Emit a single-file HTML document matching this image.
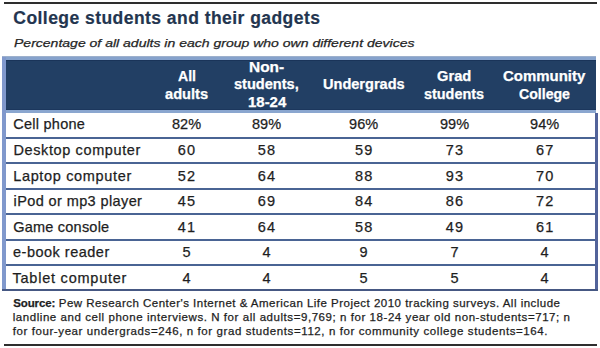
<!DOCTYPE html>
<html><head><meta charset="utf-8"><style>
html,body{margin:0;padding:0;background:#fff;width:600px;height:348px;overflow:hidden;position:relative}
.t{position:absolute;white-space:nowrap;line-height:1;font-family:"Liberation Sans",sans-serif;-webkit-text-stroke:0.25px currentColor}
.r{position:absolute}
</style></head><body>
<div class="r" style="left:3.5px;top:2px;width:593px;height:2px;background:#2e2e2e"></div>
<div class="r" style="left:4px;top:344px;width:593px;height:2px;background:#2e2e2e"></div>
<div class="t" style="left:13.30px;top:9.88px;font-size:17.5px;font-weight:bold;font-style:normal;color:#23354F;letter-spacing:0.453px;-webkit-text-stroke:0.2px currentColor">College students and their gadgets</div>
<div class="t" style="left:13.50px;top:37.56px;font-size:11.5px;font-weight:normal;font-style:italic;color:#262626;letter-spacing:0.000px;transform:scaleX(1.2187);transform-origin:0.00px 0;">Percentage of all adults in each group who own different devices</div>
<div class="r" style="left:2px;top:56px;width:594px;height:4px;background:#86A2CC"></div>
<div class="r" style="left:2px;top:56px;width:4px;height:235px;background:#8098CC"></div>
<div class="r" style="left:6px;top:60px;width:590px;height:50px;background:#223F64"></div>
<div class="r" style="left:6px;top:110px;width:590px;height:3px;background:#8AA6CF"></div>
<div class="r" style="left:6px;top:60px;width:590px;height:1px;background:#1A3459"></div>
<div class="r" style="left:6px;top:109px;width:590px;height:1px;background:#1C375D"></div>
<div class="r" style="left:2px;top:56px;width:594px;height:1px;background:#9DB0CC"></div>
<div class="r" style="left:595px;top:113px;width:3px;height:178px;background:#52639A"></div>
<div class="r" style="left:6px;top:137px;width:589px;height:2px;background:#4A6494"></div>
<div class="r" style="left:6px;top:162px;width:589px;height:2px;background:#4A6494"></div>
<div class="r" style="left:6px;top:188px;width:589px;height:2px;background:#4A6494"></div>
<div class="r" style="left:6px;top:213px;width:589px;height:2px;background:#4A6494"></div>
<div class="r" style="left:6px;top:239px;width:589px;height:2px;background:#4A6494"></div>
<div class="r" style="left:6px;top:264px;width:589px;height:2px;background:#4A6494"></div>
<div class="r" style="left:2px;top:289px;width:596px;height:2px;background:#465883"></div>
<div class="t" style="left:177.50px;top:69.45px;font-size:14px;font-weight:bold;font-style:normal;color:#ffffff;letter-spacing:0.000px;transform:scaleX(1.0070);transform-origin:0.00px 0;">All</div>
<div class="t" style="left:164.95px;top:86.65px;font-size:14px;font-weight:bold;font-style:normal;color:#ffffff;letter-spacing:0.000px;transform:scaleX(1.0448);transform-origin:0.00px 0;">adults</div>
<div class="t" style="left:248.90px;top:60.45px;font-size:14px;font-weight:bold;font-style:normal;color:#ffffff;letter-spacing:0.000px;transform:scaleX(1.1043);transform-origin:0.00px 0;">Non-</div>
<div class="t" style="left:233.70px;top:77.35px;font-size:14px;font-weight:bold;font-style:normal;color:#ffffff;letter-spacing:0.000px;transform:scaleX(1.0410);transform-origin:0.00px 0;">students,</div>
<div class="t" style="left:247.50px;top:95.35px;font-size:14px;font-weight:bold;font-style:normal;color:#ffffff;letter-spacing:0.000px;transform:scaleX(1.0685);transform-origin:0.00px 0;">18-24</div>
<div class="t" style="left:322.75px;top:77.35px;font-size:14px;font-weight:bold;font-style:normal;color:#ffffff;letter-spacing:0.000px;transform:scaleX(1.0391);transform-origin:0.00px 0;">Undergrads</div>
<div class="t" style="left:437.40px;top:69.45px;font-size:14px;font-weight:bold;font-style:normal;color:#ffffff;letter-spacing:0.000px;transform:scaleX(1.0483);transform-origin:0.00px 0;">Grad</div>
<div class="t" style="left:424.45px;top:86.65px;font-size:14px;font-weight:bold;font-style:normal;color:#ffffff;letter-spacing:0.000px;transform:scaleX(1.0296);transform-origin:0.00px 0;">students</div>
<div class="t" style="left:503.45px;top:69.45px;font-size:14px;font-weight:bold;font-style:normal;color:#ffffff;letter-spacing:0.000px;transform:scaleX(1.0688);transform-origin:0.00px 0;">Community</div>
<div class="t" style="left:519.00px;top:86.65px;font-size:14px;font-weight:bold;font-style:normal;color:#ffffff;letter-spacing:0.000px;transform:scaleX(1.0074);transform-origin:0.00px 0;">College</div>
<div class="t" style="left:13.20px;top:117.32px;font-size:14.5px;font-weight:normal;font-style:normal;color:#1e1e1e;letter-spacing:0.269px;">Cell phone</div>
<div class="t" style="left:172.00px;top:117.32px;font-size:14.5px;font-weight:normal;font-style:normal;color:#1e1e1e;letter-spacing:0.000px;">82%</div>
<div class="t" style="left:252.00px;top:117.32px;font-size:14.5px;font-weight:normal;font-style:normal;color:#1e1e1e;letter-spacing:0.000px;">89%</div>
<div class="t" style="left:349.10px;top:117.32px;font-size:14.5px;font-weight:normal;font-style:normal;color:#1e1e1e;letter-spacing:0.000px;">96%</div>
<div class="t" style="left:440.00px;top:117.32px;font-size:14.5px;font-weight:normal;font-style:normal;color:#1e1e1e;letter-spacing:0.000px;">99%</div>
<div class="t" style="left:530.10px;top:117.32px;font-size:14.5px;font-weight:normal;font-style:normal;color:#1e1e1e;letter-spacing:0.000px;">94%</div>
<div class="t" style="left:13.50px;top:142.94px;font-size:14.5px;font-weight:normal;font-style:normal;color:#1e1e1e;letter-spacing:0.612px;">Desktop computer</div>
<div class="t" style="left:177.85px;top:142.94px;font-size:14.5px;font-weight:normal;font-style:normal;color:#1e1e1e;letter-spacing:1.175px;">60</div>
<div class="t" style="left:257.85px;top:142.94px;font-size:14.5px;font-weight:normal;font-style:normal;color:#1e1e1e;letter-spacing:1.175px;">58</div>
<div class="t" style="left:354.95px;top:142.94px;font-size:14.5px;font-weight:normal;font-style:normal;color:#1e1e1e;letter-spacing:1.175px;">59</div>
<div class="t" style="left:445.85px;top:142.94px;font-size:14.5px;font-weight:normal;font-style:normal;color:#1e1e1e;letter-spacing:1.175px;">73</div>
<div class="t" style="left:535.95px;top:142.94px;font-size:14.5px;font-weight:normal;font-style:normal;color:#1e1e1e;letter-spacing:1.175px;">67</div>
<div class="t" style="left:13.20px;top:168.56px;font-size:14.5px;font-weight:normal;font-style:normal;color:#1e1e1e;letter-spacing:0.659px;">Laptop computer</div>
<div class="t" style="left:177.85px;top:168.56px;font-size:14.5px;font-weight:normal;font-style:normal;color:#1e1e1e;letter-spacing:1.175px;">52</div>
<div class="t" style="left:257.85px;top:168.56px;font-size:14.5px;font-weight:normal;font-style:normal;color:#1e1e1e;letter-spacing:1.175px;">64</div>
<div class="t" style="left:354.95px;top:168.56px;font-size:14.5px;font-weight:normal;font-style:normal;color:#1e1e1e;letter-spacing:1.175px;">88</div>
<div class="t" style="left:445.85px;top:168.56px;font-size:14.5px;font-weight:normal;font-style:normal;color:#1e1e1e;letter-spacing:1.175px;">93</div>
<div class="t" style="left:535.95px;top:168.56px;font-size:14.5px;font-weight:normal;font-style:normal;color:#1e1e1e;letter-spacing:1.175px;">70</div>
<div class="t" style="left:13.60px;top:194.18px;font-size:14.5px;font-weight:normal;font-style:normal;color:#1e1e1e;letter-spacing:0.391px;">iPod or mp3 player</div>
<div class="t" style="left:177.85px;top:194.18px;font-size:14.5px;font-weight:normal;font-style:normal;color:#1e1e1e;letter-spacing:1.175px;">45</div>
<div class="t" style="left:257.85px;top:194.18px;font-size:14.5px;font-weight:normal;font-style:normal;color:#1e1e1e;letter-spacing:1.175px;">69</div>
<div class="t" style="left:354.95px;top:194.18px;font-size:14.5px;font-weight:normal;font-style:normal;color:#1e1e1e;letter-spacing:1.175px;">84</div>
<div class="t" style="left:445.85px;top:194.18px;font-size:14.5px;font-weight:normal;font-style:normal;color:#1e1e1e;letter-spacing:1.175px;">86</div>
<div class="t" style="left:535.95px;top:194.18px;font-size:14.5px;font-weight:normal;font-style:normal;color:#1e1e1e;letter-spacing:1.175px;">72</div>
<div class="t" style="left:13.20px;top:219.80px;font-size:14.5px;font-weight:normal;font-style:normal;color:#1e1e1e;letter-spacing:0.227px;">Game console</div>
<div class="t" style="left:177.85px;top:219.80px;font-size:14.5px;font-weight:normal;font-style:normal;color:#1e1e1e;letter-spacing:1.175px;">41</div>
<div class="t" style="left:257.85px;top:219.80px;font-size:14.5px;font-weight:normal;font-style:normal;color:#1e1e1e;letter-spacing:1.175px;">64</div>
<div class="t" style="left:354.95px;top:219.80px;font-size:14.5px;font-weight:normal;font-style:normal;color:#1e1e1e;letter-spacing:1.175px;">58</div>
<div class="t" style="left:445.85px;top:219.80px;font-size:14.5px;font-weight:normal;font-style:normal;color:#1e1e1e;letter-spacing:1.175px;">49</div>
<div class="t" style="left:535.95px;top:219.80px;font-size:14.5px;font-weight:normal;font-style:normal;color:#1e1e1e;letter-spacing:1.175px;">61</div>
<div class="t" style="left:13.00px;top:245.42px;font-size:14.5px;font-weight:normal;font-style:normal;color:#1e1e1e;letter-spacing:0.496px;">e-book reader</div>
<div class="t" style="left:182.44px;top:245.42px;font-size:14.5px;font-weight:normal;font-style:normal;color:#1e1e1e;letter-spacing:0.000px;">5</div>
<div class="t" style="left:262.44px;top:245.42px;font-size:14.5px;font-weight:normal;font-style:normal;color:#1e1e1e;letter-spacing:0.000px;">4</div>
<div class="t" style="left:359.54px;top:245.42px;font-size:14.5px;font-weight:normal;font-style:normal;color:#1e1e1e;letter-spacing:0.000px;">9</div>
<div class="t" style="left:450.44px;top:245.42px;font-size:14.5px;font-weight:normal;font-style:normal;color:#1e1e1e;letter-spacing:0.000px;">7</div>
<div class="t" style="left:540.54px;top:245.42px;font-size:14.5px;font-weight:normal;font-style:normal;color:#1e1e1e;letter-spacing:0.000px;">4</div>
<div class="t" style="left:12.50px;top:271.04px;font-size:14.5px;font-weight:normal;font-style:normal;color:#1e1e1e;letter-spacing:0.770px;">Tablet computer</div>
<div class="t" style="left:182.44px;top:271.04px;font-size:14.5px;font-weight:normal;font-style:normal;color:#1e1e1e;letter-spacing:0.000px;">4</div>
<div class="t" style="left:262.44px;top:271.04px;font-size:14.5px;font-weight:normal;font-style:normal;color:#1e1e1e;letter-spacing:0.000px;">4</div>
<div class="t" style="left:359.54px;top:271.04px;font-size:14.5px;font-weight:normal;font-style:normal;color:#1e1e1e;letter-spacing:0.000px;">5</div>
<div class="t" style="left:450.44px;top:271.04px;font-size:14.5px;font-weight:normal;font-style:normal;color:#1e1e1e;letter-spacing:0.000px;">5</div>
<div class="t" style="left:540.54px;top:271.04px;font-size:14.5px;font-weight:normal;font-style:normal;color:#1e1e1e;letter-spacing:0.000px;">4</div>
<div class="t" style="left:13.30px;top:297.56px;font-size:11.5px;font-weight:bold;font-style:normal;color:#1e1e1e;letter-spacing:-0.146px;">Source:</div>
<div class="t" style="left:58.80px;top:297.56px;font-size:11.5px;font-weight:normal;font-style:normal;color:#1e1e1e;letter-spacing:0.484px;">Pew Research Center's Internet &amp; American Life Project 2010 tracking surveys. All include</div>
<div class="t" style="left:12.70px;top:311.76px;font-size:11.5px;font-weight:normal;font-style:normal;color:#1e1e1e;letter-spacing:0.560px;">landline and cell phone interviews. N for all adults=9,769; n for 18-24 year old non-students=717; n</div>
<div class="t" style="left:12.70px;top:326.06px;font-size:11.5px;font-weight:normal;font-style:normal;color:#1e1e1e;letter-spacing:0.593px;">for four-year undergrads=246, n for grad students=112, n for community college students=164.</div>
</body></html>
